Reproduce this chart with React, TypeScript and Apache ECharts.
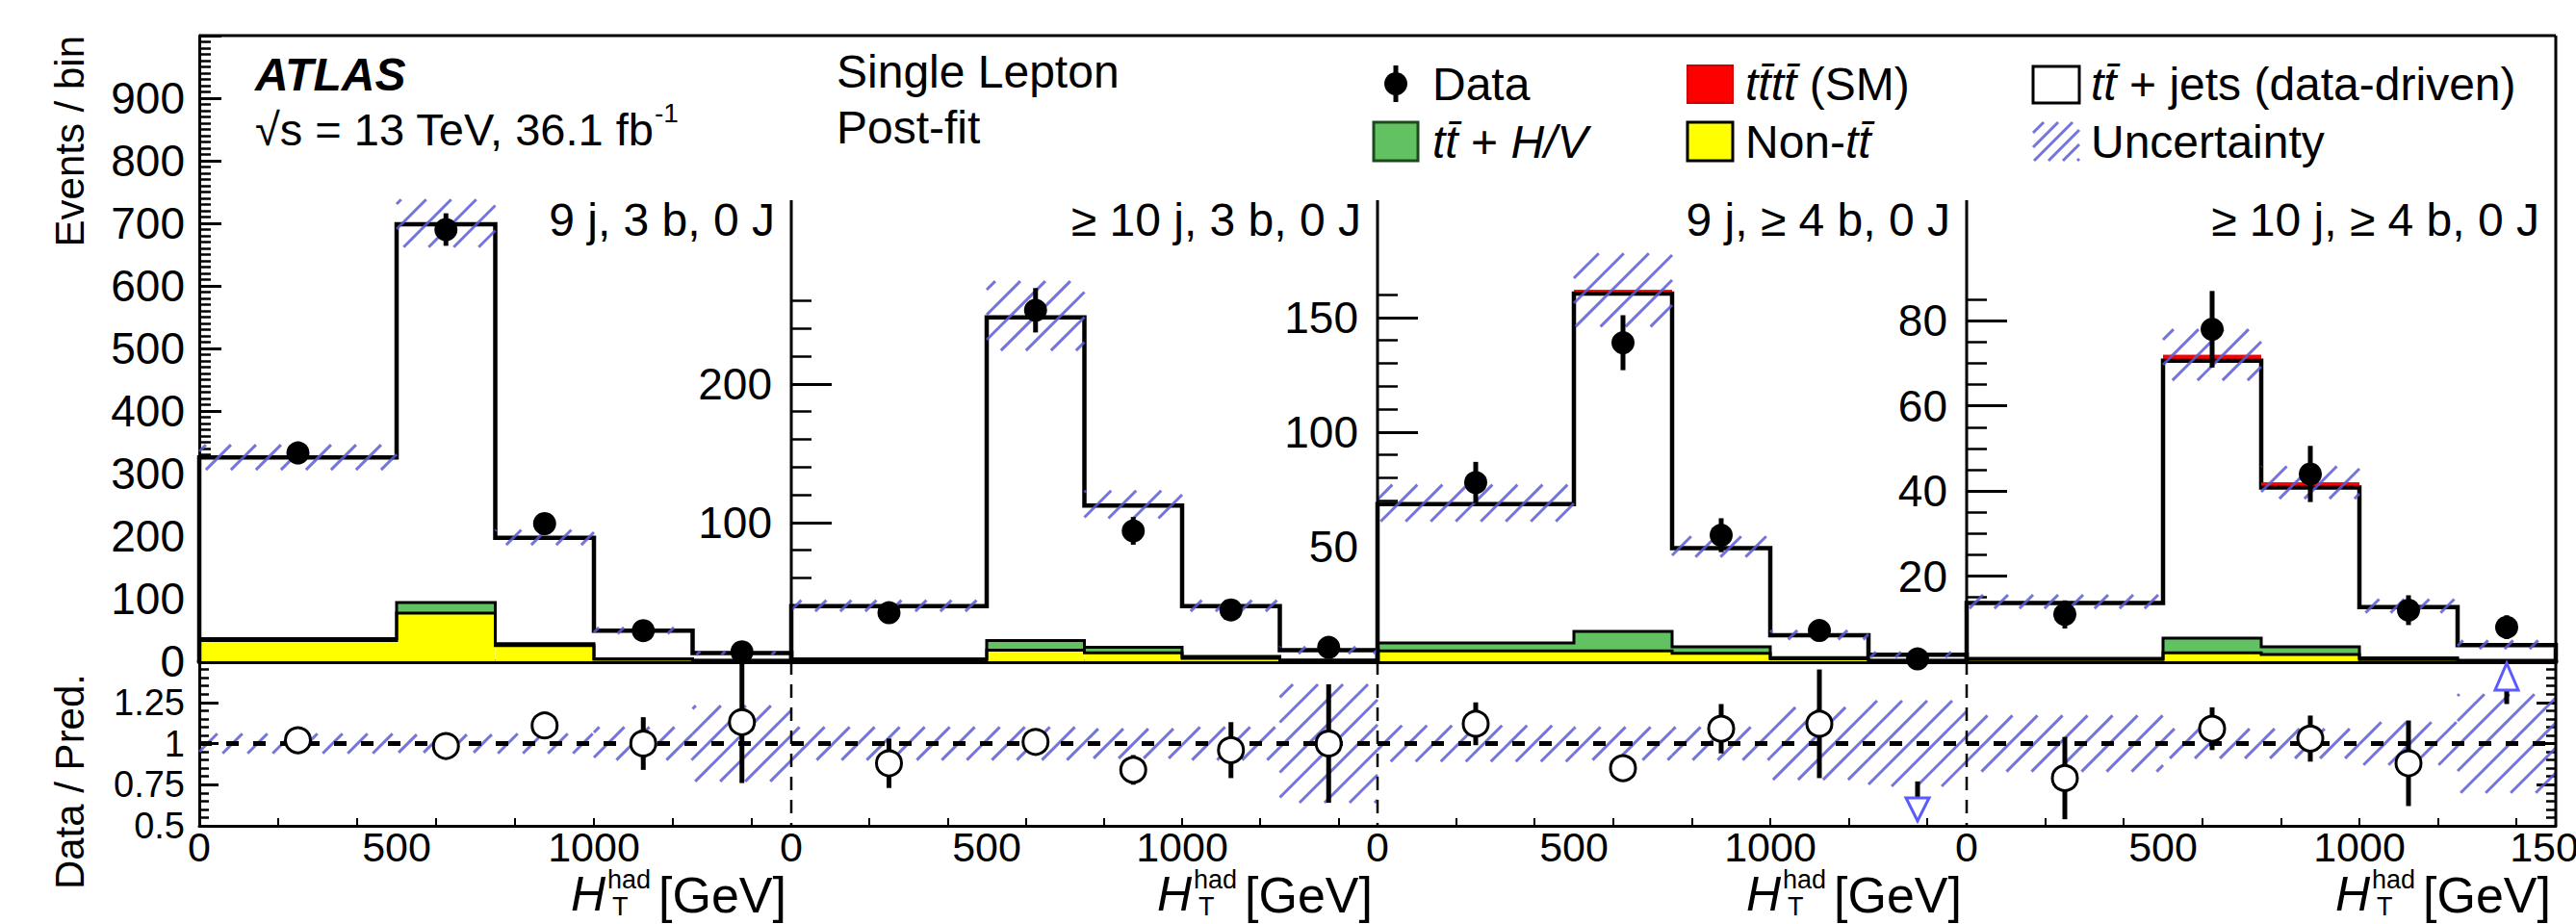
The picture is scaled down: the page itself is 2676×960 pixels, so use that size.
import React, { useEffect, useRef } from "react";
import * as echarts from "echarts";

const FONT = "'Liberation Sans', Arial, Helvetica, sans-serif";
const BAR = "\u0304";

// ---------------- data ----------------
const BIN_EDGES = [0, 500, 750, 1000, 1250, 1500];
const BIN_CENTERS = [250, 625, 875, 1125, 1375];
const REGION_LABELS = [
  "9 j, 3 b, 0 J",
  "\u2265 10 j, 3 b, 0 J",
  "9 j, \u2265 4 b, 0 J",
  "\u2265 10 j, \u2265 4 b, 0 J",
];

// Region 1: 9 j, 3 b, 0 J
const NONTT_R1 = [33, 77, 25, 3, 1];
const TTHV_R1 = [3, 17, 3, 1, 0.4];
const TTJETS_R1 = [289.6, 604.5, 169.3, 44.7, 11.5];
const TTTT_R1 = [0.4, 1.5, 0.7, 0.3, 0.1];
const UNC_R1 = [20, 38, 12, 5, 3];
const DATA_R1 = [333, 690, 220, 49, 15];
const DATAERR_R1 = [18, 26, 15, 7, 4];
const RATIO_R1 = [1.02, 0.985, 1.11, 1.0, 1.13];
const RATIOERR_R1 = [0.03, 0.04, 0.08, 0.16, 0.37];
const RATIOUNC_R1 = [0.06, 0.055, 0.06, 0.1, 0.23];

// Region 2: >=10 j, 3 b, 0 J
const NONTT_R2 = [1, 8, 6, 2, 0.5];
const TTHV_R2 = [0.8, 7, 4, 1.5, 0.4];
const TTJETS_R2 = [38, 232.8, 102.3, 36.2, 7];
const TTTT_R2 = [0.2, 1.2, 0.7, 0.3, 0.1];
const UNC_R2 = [4, 25, 10, 4, 2.5];
const DATA_R2 = [35, 253, 94, 37, 10];
const DATAERR_R2 = [6, 16, 10, 6, 3.2];
const RATIO_R2 = [0.88, 1.01, 0.84, 0.96, 1.0];
const RATIOERR_R2 = [0.15, 0.06, 0.09, 0.17, 0.36];
const RATIOUNC_R2 = [0.1, 0.1, 0.09, 0.1, 0.36];

// Region 3: 9 j, >=4 b, 0 J
const NONTT_R3 = [4.5, 4.5, 3.5, 1, 0.3];
const TTHV_R3 = [3.5, 8.5, 2.8, 0.6, 0.1];
const TTJETS_R3 = [60.6, 147.4, 43.1, 9.7, 2.4];
const TTTT_R3 = [0.4, 1.6, 0.6, 0.2, 0.1];
const UNC_R3 = [8, 16, 4.5, 2, 1.2];
const DATA_R3 = [78, 139, 55, 13.4, 1];
const DATAERR_R3 = [9, 12, 7.4, 3.7, 1];
const RATIO_R3 = [1.12, 0.85, 1.09, 1.12, 0.35];
const RATIOERR_R3 = [0.13, 0.08, 0.15, 0.33, 0.42];
const RATIOUNC_R3 = [0.11, 0.1, 0.1, 0.22, 0.26];

// Region 4: >=10 j, >=4 b, 0 J
const NONTT_R4 = [0.4, 2, 1.6, 0.4, 0.1];
const TTHV_R4 = [0.3, 3.4, 1.8, 0.4, 0.1];
const TTJETS_R4 = [13, 65.2, 37.4, 11.9, 3.6];
const TTTT_R4 = [0.3, 1.4, 1.2, 0.3, 0.1];
const UNC_R4 = [1.6, 6, 3.8, 1.6, 1];
const DATA_R4 = [11, 78, 44, 12, 8];
const DATAERR_R4 = [3.3, 9, 6.6, 3.5, 2.8];
const RATIO_R4 = [0.79, 1.09, 1.03, 0.88, 2.05];
const RATIOERR_R4 = [0.25, 0.13, 0.14, 0.26, 0.81];
const RATIOUNC_R4 = [0.17, 0.09, 0.09, 0.13, 0.3];

const NONTT = [NONTT_R1, NONTT_R2, NONTT_R3, NONTT_R4];
const TTHV = [TTHV_R1, TTHV_R2, TTHV_R3, TTHV_R4];
const TTJETS = [TTJETS_R1, TTJETS_R2, TTJETS_R3, TTJETS_R4];
const TTTT = [TTTT_R1, TTTT_R2, TTTT_R3, TTTT_R4];
const UNC = [UNC_R1, UNC_R2, UNC_R3, UNC_R4];
const DATA = [DATA_R1, DATA_R2, DATA_R3, DATA_R4];
const DATAERR = [DATAERR_R1, DATAERR_R2, DATAERR_R3, DATAERR_R4];
const RATIO = [RATIO_R1, RATIO_R2, RATIO_R3, RATIO_R4];
const RATIOERR = [RATIOERR_R1, RATIOERR_R2, RATIOERR_R3, RATIOERR_R4];
const RATIOUNC = [RATIOUNC_R1, RATIOUNC_R2, RATIOUNC_R3, RATIOUNC_R4];

// axis ticks / labels
const Y_MAX = [1000, 451, 273, 147];
const Y_INTERVAL = [100, 100, 50, 20];
const Y_MAJOR = [
  [0, 100, 200, 300, 400, 500, 600, 700, 800, 900, 1000],
  [0, 100, 200],
  [0, 50, 100, 150],
  [0, 20, 40, 60, 80],
];
const Y_LABELS = [
  [0, 100, 200, 300, 400, 500, 600, 700, 800, 900],
  [100, 200],
  [50, 100, 150],
  [20, 40, 60, 80],
];
const Y_MINOR_STEP = [10, 20, 10, 5];
const Y_MINOR_TOP = [1000, 260, 160, 85];
const RATIO_MIN = 0.5;
const RATIO_MAX = 1.5;
const RATIO_MAJOR = [0.5, 0.75, 1, 1.25, 1.5];
const RATIO_LABELS = [0.5, 0.75, 1, 1.25];
const RATIO_MINOR_STEP = 0.05;
const X_TICKS = [200, 400, 600, 800, 1000, 1200, 1400];
const X_LABELS = [0, 500, 1000];
const X_LABELS_LAST = [0, 500, 1000, 1500];

// ---------------- layout / style ----------------
const PANEL_LEFT = [207, 822, 1431, 2043];
const PANEL_RIGHT = [822, 1431, 2043, 2655];
const FRAME_TOP = 37;
const SPLIT_Y = 687;
const FRAME_BOTTOM = 858;
const DIVIDER_TOP = 208;

const YELLOW = "#ffff00";
const GREEN = "#62c262";
const RED = "#ff0000";
const HATCH = "rgba(92,92,212,0.85)";
const ARROW = "#5a5aff";
const HATCH_STEP = 26;

function steps(step: number, from: number, to: number) {
  const out: number[] = [];
  for (let k = 0; ; k++) {
    const v = Math.round((from + k * step) * 1000) / 1000;
    if (v > to + 1e-9) break;
    out.push(v);
  }
  return out;
}

function hatchSegments(xa: number, ya: number, xb: number, yb: number, step = HATCH_STEP) {
  const x0 = Math.min(xa, xb), x1 = Math.max(xa, xb);
  const y0 = Math.min(ya, yb), y1 = Math.max(ya, yb);
  const segs: any[] = [];
  const start = Math.ceil((x0 + y0) / step) * step;
  for (let c = start; c <= x1 + y1; c += step) {
    const lo = Math.max(x0, c - y1);
    const hi = Math.min(x1, c - y0);
    if (hi - lo > 0.5) segs.push({ x1: lo, y1: c - lo, x2: hi, y2: c - hi });
  }
  return segs;
}

function hatchGroup(xa: number, ya: number, xb: number, yb: number, step = HATCH_STEP, width = 3) {
  return hatchSegments(xa, ya, xb, yb, step).map((s) => ({
    type: "line",
    shape: s,
    style: { stroke: HATCH, lineWidth: width },
  }));
}

function txt(text: string, x: number, y: number, o: any = {}) {
  const align = o.align || "left";
  const va = o.va || "middle";
  const style: any = {
    text,
    fontSize: o.size || 48,
    fontFamily: FONT,
    fontStyle: o.italic ? "italic" : "normal",
    fontWeight: o.bold ? "bold" : "normal",
    fill: "#000",
    textAlign: align,
    align,
    textVerticalAlign: va,
    verticalAlign: va,
  };
  if (o.rich) style.rich = o.rich;
  return { type: "text", x, y, rotation: o.rotation || 0, z: 20, silent: true, style };
}

function gline(x1: number, y1: number, x2: number, y2: number, width = 3, dash?: number[]) {
  const style: any = { stroke: "#000", lineWidth: width };
  if (dash) style.lineDash = dash;
  return { type: "line", z: 10, silent: true, shape: { x1, y1, x2, y2 }, style };
}

const ITALIC = { fontStyle: "italic", fontSize: 48, fontFamily: FONT, fill: "#000" };

function buildGraphic() {
  const g: any[] = [];
  // frame
  g.push(gline(PANEL_LEFT[0], FRAME_TOP, PANEL_RIGHT[3], FRAME_TOP, 3));
  g.push(gline(PANEL_RIGHT[3], FRAME_TOP, PANEL_RIGHT[3], FRAME_BOTTOM, 3));
  for (let p = 1; p < 4; p++) {
    const x = PANEL_LEFT[p];
    g.push(gline(x, DIVIDER_TOP, x, SPLIT_Y, 3));
    g.push(gline(x, SPLIT_Y, x, FRAME_BOTTOM, 2.5, [14, 10]));
  }
  // ATLAS label
  g.push(txt("ATLAS", 265, 77, { bold: true, italic: true, size: 48 }));
  g.push(txt("\u221As = 13 TeV, 36.1 fb", 265, 134, { size: 47 }));
  g.push(txt("-1", 680, 117, { size: 28 }));
  g.push(txt("Single Lepton", 869, 74));
  g.push(txt("Post-fit", 869, 132));
  // legend row 1
  g.push({ type: "line", z: 20, shape: { x1: 1450, y1: 68, x2: 1450, y2: 106 }, style: { stroke: "#000", lineWidth: 5 } });
  g.push({ type: "circle", z: 20, shape: { cx: 1450, cy: 87, r: 12 }, style: { fill: "#000" } });
  g.push(txt("Data", 1488, 87));
  g.push({ type: "rect", z: 20, shape: { x: 1753, y: 68, width: 47, height: 39 }, style: { fill: RED, stroke: "#d00000", lineWidth: 2 } });
  g.push(txt("{i|tt" + BAR + "tt" + BAR + "} (SM)", 1813, 87, { rich: { i: ITALIC } }));
  g.push({ type: "rect", z: 20, shape: { x: 2112, y: 69, width: 48, height: 38 }, style: { fill: "#fff", stroke: "#000", lineWidth: 3 } });
  g.push(txt("{i|tt" + BAR + "} + jets (data-driven)", 2172, 87, { rich: { i: ITALIC } }));
  // legend row 2
  g.push({ type: "rect", z: 20, shape: { x: 1427, y: 127, width: 46, height: 40 }, style: { fill: GREEN, stroke: "#1c4a1c", lineWidth: 3 } });
  g.push(txt("{i|tt" + BAR + "} + {i|H/V}", 1488, 147, { rich: { i: ITALIC } }));
  g.push({ type: "rect", z: 20, shape: { x: 1753, y: 127, width: 47, height: 40 }, style: { fill: YELLOW, stroke: "#000", lineWidth: 3 } });
  g.push(txt("Non-{i|tt" + BAR + "}", 1813, 147, { rich: { i: ITALIC } }));
  hatchGroup(2112, 127, 2160, 167, 15, 3).forEach((e) => g.push({ ...e, z: 20 }));
  g.push(txt("Uncertainty", 2172, 147));
  // region labels
  for (let p = 0; p < 4; p++) {
    g.push(txt(REGION_LABELS[p], PANEL_RIGHT[p] - 17, 228, { align: "right" }));
  }
  // axis titles
  g.push(txt("Events / bin", 72, FRAME_TOP, { align: "right", size: 42, rotation: Math.PI / 2 }));
  g.push(txt("Data / Pred.", 72, 700, { align: "right", size: 42, rotation: Math.PI / 2 }));
  for (let p = 0; p < 4; p++) {
    const R = PANEL_RIGHT[p] - 5;
    g.push(txt("[GeV]", R, 930, { align: "right", size: 52 }));
    const supLeft = R - 186;
    g.push(txt("had", supLeft, 914, { align: "left", size: 27 }));
    g.push(txt("T", supLeft + 5, 942, { align: "left", size: 27 }));
    g.push(txt("H", supLeft - 2, 929, { align: "right", size: 50, italic: true }));
  }
  return g;
}

function buildOption() {
  const grid: any[] = [];
  const xAxis: any[] = [];
  const yAxis: any[] = [];
  const series: any[] = [];

  const axisText = { fontFamily: FONT, color: "#000" };
  const plain = (v: number) => String(v);

  for (let p = 0; p < 4; p++) {
    const left = PANEL_LEFT[p];
    const width = PANEL_RIGHT[p] - PANEL_LEFT[p];
    const gU = 2 * p;
    const gL = 2 * p + 1;
    grid.push({ left, top: FRAME_TOP, width, height: SPLIT_Y - FRAME_TOP, outerBoundsMode: "none" });
    grid.push({ left, top: SPLIT_Y, width, height: FRAME_BOTTOM - SPLIT_Y, outerBoundsMode: "none" });

    // x axes
    xAxis.push({
      type: "value", gridIndex: gU, min: 0, max: 1500, interval: 500,
      axisLine: { show: true, onZero: false, lineStyle: { color: "#000", width: 5 } },
      axisTick: { show: true, inside: true, length: 8, customValues: X_TICKS, lineStyle: { color: "#000", width: 2 } },
      axisLabel: { show: false },
      splitLine: { show: false },
    });
    xAxis.push({
      type: "value", gridIndex: gL, min: 0, max: 1500, interval: 500,
      axisLine: { show: true, onZero: false, lineStyle: { color: "#000", width: 3 } },
      axisTick: { show: true, inside: true, length: 8, customValues: X_TICKS, lineStyle: { color: "#000", width: 2 } },
      axisLabel: { show: true, customValues: p === 3 ? X_LABELS_LAST : X_LABELS, formatter: plain, fontSize: 43, margin: 0, ...axisText },
      splitLine: { show: false },
    });

    // upper y axes
    const yU = yAxis.length;
    yAxis.push({
      type: "value", gridIndex: gU, position: "left", min: 0, max: Y_MAX[p], interval: Y_INTERVAL[p],
      axisLine: { show: p === 0, onZero: false, lineStyle: { color: "#000", width: 3 } },
      axisTick: { show: true, inside: true, length: p === 0 ? 23 : 42, customValues: Y_MAJOR[p], lineStyle: { color: "#000", width: 3 } },
      axisLabel: { show: true, customValues: Y_LABELS[p], formatter: plain, fontSize: 46, margin: p === 0 ? 15 : 20, ...axisText },
      splitLine: { show: false },
    });
    yAxis.push({
      type: "value", gridIndex: gU, position: "left", min: 0, max: Y_MAX[p], interval: Y_INTERVAL[p],
      axisLine: { show: false, onZero: false },
      axisTick: { show: true, inside: true, length: p === 0 ? 12 : 21, customValues: steps(Y_MINOR_STEP[p], 0, Y_MINOR_TOP[p]), lineStyle: { color: "#000", width: 2.5 } },
      axisLabel: { show: false },
      splitLine: { show: false },
    });

    // lower y axes
    const yL = yAxis.length;
    if (p === 0 || p === 3) {
      const pos = p === 0 ? "left" : "right";
      yAxis.push({
        type: "value", gridIndex: gL, position: pos, min: RATIO_MIN, max: RATIO_MAX, interval: 0.25,
        axisLine: { show: p === 0, onZero: false, lineStyle: { color: "#000", width: 3 } },
        axisTick: { show: true, inside: true, length: 20, customValues: RATIO_MAJOR, lineStyle: { color: "#000", width: 3 } },
        axisLabel: { show: p === 0, customValues: RATIO_LABELS, fontSize: 38, margin: 15, ...axisText },
        splitLine: { show: false },
      });
      yAxis.push({
        type: "value", gridIndex: gL, position: pos, min: RATIO_MIN, max: RATIO_MAX, interval: 0.25,
        axisLine: { show: false, onZero: false },
        axisTick: { show: true, inside: true, length: 10, customValues: steps(RATIO_MINOR_STEP, RATIO_MIN, RATIO_MAX), lineStyle: { color: "#000", width: 2.5 } },
        axisLabel: { show: false },
        splitLine: { show: false },
      });
    } else {
      yAxis.push({ type: "value", gridIndex: gL, min: RATIO_MIN, max: RATIO_MAX, interval: 0.25, show: false });
    }

    const layers = [NONTT[p], TTHV[p], TTJETS[p], TTTT[p]];
    const colors = [YELLOW, GREEN, "#ffffff", RED];
    const totals = BIN_CENTERS.map((_, i) => layers.reduce((s, arr) => s + arr[i], 0));

    // stacked fills
    series.push({
      type: "custom", xAxisIndex: gU, yAxisIndex: yU, silent: true, z: 2,
      data: BIN_CENTERS.map((c, i) => [c, i]),
      renderItem: (params: any, api: any) => {
        const i = params.dataIndex;
        const children: any[] = [];
        let base = 0;
        layers.forEach((arr, k) => {
          const v = arr[i];
          const tl = api.coord([BIN_EDGES[i], base + v]);
          const br = api.coord([BIN_EDGES[i + 1], base]);
          children.push({
            type: "rect",
            shape: { x: tl[0], y: tl[1], width: br[0] - tl[0], height: br[1] - tl[1] },
            style: { fill: colors[k] },
          });
          base += v;
        });
        return { type: "group", children };
      },
    });

    // stacked outlines (step lines) + red tttt on top
    series.push({
      type: "custom", xAxisIndex: gU, yAxisIndex: yU, silent: true, z: 3,
      data: [[0, 0]],
      renderItem: (_params: any, api: any) => {
        const children: any[] = [];
        let cum = [0, 0, 0, 0, 0];
        for (let k = 0; k < 3; k++) {
          cum = cum.map((c, i) => c + layers[k][i]);
          const pts: number[][] = [api.coord([BIN_EDGES[0], 0])];
          for (let i = 0; i < 5; i++) {
            pts.push(api.coord([BIN_EDGES[i], cum[i]]));
            pts.push(api.coord([BIN_EDGES[i + 1], cum[i]]));
          }
          pts.push(api.coord([BIN_EDGES[5], 0]));
          children.push({
            type: "polyline",
            shape: { points: pts },
            style: { fill: "none", stroke: "#000", lineWidth: k === 2 ? 4.5 : 3 },
          });
        }
        for (let i = 0; i < 5; i++) {
          const tl = api.coord([BIN_EDGES[i], cum[i] + layers[3][i]]);
          const br = api.coord([BIN_EDGES[i + 1], cum[i]]);
          const h = br[1] - 2.2 - tl[1];
          if (h > 0.3) {
            children.push({ type: "rect", shape: { x: tl[0], y: tl[1], width: br[0] - tl[0], height: h }, style: { fill: RED } });
          }
        }
        return { type: "group", children };
      },
    });

    // uncertainty hatch
    series.push({
      type: "custom", xAxisIndex: gU, yAxisIndex: yU, silent: true, z: 4,
      data: BIN_CENTERS.map((c, i) => [c, i]),
      renderItem: (params: any, api: any) => {
        const i = params.dataIndex;
        const a = api.coord([BIN_EDGES[i], totals[i] + UNC[p][i]]);
        const b = api.coord([BIN_EDGES[i + 1], Math.max(0, totals[i] - UNC[p][i])]);
        return { type: "group", children: hatchGroup(a[0], a[1], b[0], b[1]) };
      },
    });

    // data points
    series.push({
      type: "custom", xAxisIndex: gU, yAxisIndex: yU, silent: true, z: 5,
      data: BIN_CENTERS.map((c, i) => [c, DATA[p][i], DATAERR[p][i]]),
      renderItem: (_params: any, api: any) => {
        const x = api.value(0), y = api.value(1), e = api.value(2);
        const c = api.coord([x, y]);
        const t = api.coord([x, y + e]);
        const b = api.coord([x, Math.max(0, y - e)]);
        return {
          type: "group",
          children: [
            { type: "line", shape: { x1: c[0], y1: t[1], x2: c[0], y2: b[1] }, style: { stroke: "#000", lineWidth: 5 } },
            { type: "circle", shape: { cx: c[0], cy: c[1], r: 12 }, style: { fill: "#000" } },
          ],
        };
      },
    });

    // ratio uncertainty band
    series.push({
      type: "custom", xAxisIndex: gL, yAxisIndex: yL, silent: true, z: 2,
      data: BIN_CENTERS.map((c) => [c, 1]),
      renderItem: (params: any, api: any) => {
        const i = params.dataIndex;
        const u = RATIOUNC[p][i];
        const a = api.coord([BIN_EDGES[i], Math.min(RATIO_MAX, 1 + u)]);
        const b = api.coord([BIN_EDGES[i + 1], Math.max(RATIO_MIN, 1 - u)]);
        return { type: "group", children: hatchGroup(a[0], a[1], b[0], b[1]) };
      },
    });

    // dashed unity line
    series.push({
      type: "line", xAxisIndex: gL, yAxisIndex: yL, silent: true, z: 3,
      data: [[0, 1], [1500, 1]],
      symbol: "none",
      lineStyle: { color: "#000", width: 5, type: [13, 15] },
    });

    // ratio points
    series.push({
      type: "custom", xAxisIndex: gL, yAxisIndex: yL, silent: true, z: 5,
      data: BIN_CENTERS.map((c, i) => [c, RATIO[p][i], RATIOERR[p][i]]),
      renderItem: (_params: any, api: any) => {
        const x = api.value(0), v = api.value(1), e = api.value(2);
        const pb = api.coord([x, RATIO_MIN]);
        const pt = api.coord([x, RATIO_MAX]);
        const cx = pb[0];
        const children: any[] = [];
        if (v < RATIO_MIN) {
          const tip = pb[1] - 5;
          const base = tip - 24;
          const end = api.coord([x, v + e])[1];
          if (end < base) children.push({ type: "line", shape: { x1: cx, y1: base, x2: cx, y2: end }, style: { stroke: "#000", lineWidth: 5 } });
          children.push({ type: "polygon", shape: { points: [[cx - 12, base], [cx + 12, base], [cx, tip]] }, style: { fill: "#fff", stroke: ARROW, lineWidth: 3 } });
        } else if (v > RATIO_MAX) {
          const tip = pt[1] + 2;
          const base = tip + 28;
          const end = api.coord([x, v - e])[1];
          if (end > base) children.push({ type: "line", shape: { x1: cx, y1: base, x2: cx, y2: end }, style: { stroke: "#000", lineWidth: 5 } });
          children.push({ type: "polygon", shape: { points: [[cx - 12, base], [cx + 12, base], [cx, tip]] }, style: { fill: "#fff", stroke: ARROW, lineWidth: 3 } });
        } else {
          const c = api.coord([x, v]);
          const t = api.coord([x, Math.min(RATIO_MAX, v + e)]);
          const b = api.coord([x, Math.max(RATIO_MIN, v - e)]);
          children.push({ type: "line", shape: { x1: cx, y1: t[1], x2: cx, y2: b[1] }, style: { stroke: "#000", lineWidth: 5 } });
          children.push({ type: "circle", shape: { cx, cy: c[1], r: 13 }, style: { fill: "#fff", stroke: "#000", lineWidth: 3 } });
        }
        return { type: "group", children };
      },
    });
  }

  return {
    animation: false,
    backgroundColor: "#ffffff",
    textStyle: { fontFamily: FONT },
    grid,
    xAxis,
    yAxis,
    series,
    graphic: { elements: buildGraphic() },
  };
}

export default function App() {
  const ref = useRef<HTMLDivElement>(null);
  useEffect(() => {
    document.body.style.margin = "0";
    const chart = echarts.init(ref.current as HTMLDivElement, undefined, { renderer: "svg" });
    chart.setOption(buildOption() as any);
    return () => chart.dispose();
  }, []);
  return (
    <div
      ref={ref}
      style={{ position: "absolute", left: 0, top: 0, width: 2676, height: 960, background: "#fff" }}
    />
  );
}
